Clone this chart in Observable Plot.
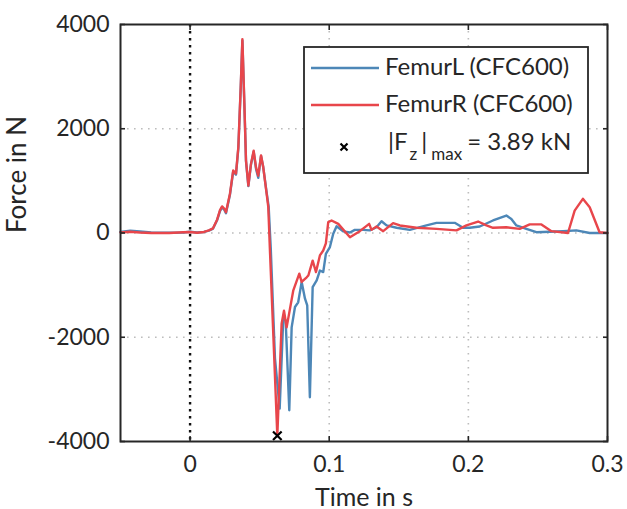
<!DOCTYPE html>
<html><head><meta charset="utf-8">
<script src="https://cdn.jsdelivr.net/npm/d3@7"></script>
<script src="https://cdn.jsdelivr.net/npm/@observablehq/plot@0.6"></script>
<style>
body{margin:0;background:#fff;}
#chart{width:627px;height:509px;}
</style></head><body><div id="chart"></div>
<script>
const seriesNames = ["FemurL (CFC600)", "FemurR (CFC600)"];
const seriesColors = ["#4d87b7", "#e8464b"];

const timeL = [-0.05,-0.043,-0.036,-0.028,-0.015,-0.005,0,0.005,0.01,0.0135,0.0165,0.0195,0.0215,0.023,0.0245,0.0258,0.0287,0.031,0.033,0.0347,0.0364,0.0376,0.039,0.0402,0.0419,0.0438,0.0457,0.0474,0.049,0.051,0.0526,0.055,0.0565,0.058,0.061,0.0644,0.067,0.0687,0.0713,0.073,0.0754,0.0777,0.0802,0.0826,0.0842,0.0861,0.0881,0.091,0.0933,0.0957,0.0976,0.1005,0.1029,0.1053,0.11,0.1149,0.1184,0.1244,0.1292,0.134,0.1376,0.1412,0.1484,0.1579,0.1699,0.1771,0.1902,0.1962,0.201,0.2082,0.2177,0.2273,0.2309,0.2345,0.2417,0.2489,0.268,0.2776,0.2872,0.3];
const forceL = [20,45,30,10,5,10,25,10,20,45,85,250,420,490,450,380,740,1180,1120,1630,2780,3690,2480,1380,900,1320,1560,1230,1060,1480,1260,780,500,-300,-2400,-3370,-1620,-1680,-3400,-1810,-1420,-1330,-940,-1260,-1390,-3150,-1040,-910,-720,-750,-400,-270,-15,130,30,10,60,60,50,110,225,145,100,60,145,195,195,100,100,125,240,335,270,145,80,15,35,50,0,0];

const timeR = [-0.05,-0.043,-0.036,-0.028,-0.015,-0.005,0,0.005,0.01,0.0135,0.0165,0.0195,0.0215,0.023,0.0245,0.0258,0.0287,0.031,0.033,0.0347,0.0364,0.0376,0.039,0.0402,0.0419,0.0438,0.0457,0.0474,0.049,0.051,0.0526,0.055,0.0562,0.0575,0.0598,0.0627,0.0658,0.0675,0.0694,0.0742,0.0785,0.0802,0.0838,0.085,0.0881,0.0905,0.0933,0.0957,0.0976,0.0993,0.1017,0.1065,0.1149,0.122,0.1287,0.1304,0.134,0.1388,0.1459,0.1508,0.1627,0.1771,0.1915,0.1986,0.207,0.213,0.2177,0.2273,0.2369,0.2441,0.2525,0.2597,0.2716,0.2764,0.2823,0.2872,0.2943,0.3];
const forceR = [10,25,10,0,0,15,20,5,20,50,90,260,440,510,470,400,760,1200,1140,1650,2800,3720,2500,1390,910,1330,1580,1260,1100,1490,1260,760,500,-400,-1930,-3890,-1740,-1490,-1810,-1100,-780,-940,-850,-815,-530,-750,-430,-335,-200,210,240,175,-80,35,175,60,125,35,190,145,100,80,50,145,220,145,100,110,80,165,165,35,0,430,655,495,15,0];

const peakTime = [0.0627];
const peakForce = [-3890];
const peakLabel = "= 3.89 kN";

const xTicks = [0, 0.1, 0.2, 0.3];
const yTicks = [-4000, -2000, 0, 2000, 4000];
const xGrid = [0.1, 0.2];
const yGrid = [-2000, 0, 2000];
const zeroLine = [0];
const xLabel = "Time in s";
const yLabel = "Force in N";

const rows = [
  ...timeL.map((t, i) => ({t, f: forceL[i], s: seriesNames[0]})),
  ...timeR.map((t, i) => ({t, f: forceR[i], s: seriesNames[1]}))
];
const peaks = peakTime.map((t, i) => ({t, f: peakForce[i]}));

const ink = "#262626";
const noText = () => "";

const plot = Plot.plot({
  width: 627,
  height: 509,
  marginLeft: 120,
  marginRight: 20,
  marginTop: 24,
  marginBottom: 68,
  style: {fontFamily: "Lato, sans-serif", fontSize: "23px", color: ink, background: "#fff"},
  x: {domain: [-0.05, 0.3]},
  y: {domain: [-4000, 4000]},
  color: {domain: seriesNames, range: seriesColors},
  marks: [
    Plot.ruleX(xGrid, {stroke: "#bdbdbd", strokeWidth: 1.6, strokeDasharray: "1.6,5.4"}),
    Plot.ruleY(yGrid, {stroke: "#bdbdbd", strokeWidth: 1.6, strokeDasharray: "1.6,5.4"}),
    Plot.ruleX(zeroLine, {stroke: "#111", strokeWidth: 2.4, strokeDasharray: "2.4,4.6"}),
    Plot.line(rows, {x: "t", y: "f", z: "s", stroke: "s", strokeWidth: 2.4, strokeLinejoin: "round"}),
    Plot.dot(peaks, {x: "t", y: "f", symbol: "times", r: 4, stroke: "#000", strokeWidth: 2.2}),
    Plot.frame({stroke: ink, strokeWidth: 2}),
    Plot.axisX(xTicks, {anchor: "bottom", tickSize: 0, tickPadding: 14, tickFormat: d => String(d), label: null, fontSize: 23}),
    Plot.axisY(yTicks, {anchor: "left", tickSize: 0, tickPadding: 11, tickFormat: d => String(d), label: null, fontSize: 23}),
    Plot.axisX(xTicks, {anchor: "bottom", tickSize: 5, dy: -5, tickFormat: noText, label: null, stroke: ink, strokeWidth: 1.6}),
    Plot.axisX(xTicks, {anchor: "top", tickSize: 5, dy: 5, tickFormat: noText, label: null, stroke: ink, strokeWidth: 1.6}),
    Plot.axisY(yTicks, {anchor: "left", tickSize: 5, dx: 5, tickFormat: noText, label: null, stroke: ink, strokeWidth: 1.6}),
    Plot.axisY(yTicks, {anchor: "right", tickSize: 5, dx: -5, tickFormat: noText, label: null, stroke: ink, strokeWidth: 1.6}),
    Plot.text([xLabel], {frameAnchor: "bottom", dy: 56, lineAnchor: "middle", fontSize: 25, fill: ink}),
    Plot.text([yLabel], {frameAnchor: "left", dx: -103, rotate: -90, fontSize: 26, fill: ink})
  ]
});

// Legend (drawn in the SVG, top-right inside the frame)
const svg = d3.select(plot);
const lg = svg.append("g").attr("font-family", "Lato, sans-serif").attr("font-size", 24)
  .attr("fill", ink).attr("text-anchor", "start");
lg.append("rect").attr("x", 304).attr("y", 47).attr("width", 284).attr("height", 126)
  .attr("fill", "#fff").attr("stroke", ink).attr("stroke-width", 1.8);
seriesNames.forEach((name, i) => {
  const cy = 68 + i * 37;
  lg.append("line").attr("x1", 311).attr("x2", 379).attr("y1", cy).attr("y2", cy)
    .attr("stroke", seriesColors[i]).attr("stroke-width", 2.3);
  lg.append("text").attr("x", 385).attr("y", cy + 7).text(name);
});
lg.append("path").attr("d", "M340.5,143.5L347.5,150.5M340.5,150.5L347.5,143.5").attr("stroke", "#000").attr("stroke-width", 2.2);
const t3 = lg.append("text").attr("x", 388).attr("y", 150);
t3.append("tspan").text("|F");
t3.append("tspan").attr("dy", 10).attr("font-size", 17).attr("dx", 2).text("z");
t3.append("tspan").attr("dy", -10).attr("dx", 4).text("|");
t3.append("tspan").attr("dy", 10).attr("font-size", 17).attr("dx", 4).text("max");
t3.append("tspan").attr("dy", -10).attr("dx", 5).text(peakLabel);

document.getElementById("chart").appendChild(plot);
</script>
</body></html>
